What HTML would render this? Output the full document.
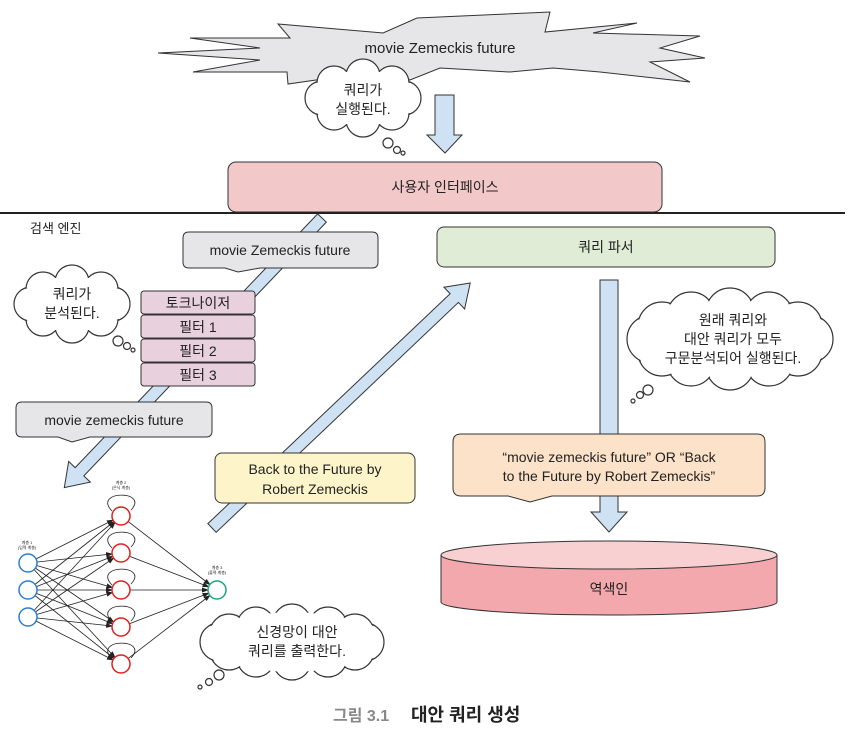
<!DOCTYPE html>
<html><head><meta charset="utf-8"><style>
html,body{margin:0;padding:0;background:#fff;}
svg{display:block;font-family:"Liberation Sans","Noto Sans CJK KR",sans-serif;}
</style></head><body>
<svg width="859" height="734" viewBox="0 0 859 734" xmlns="http://www.w3.org/2000/svg">
<defs>
<marker id="ah" markerUnits="userSpaceOnUse" markerWidth="20" markerHeight="8" refX="15" refY="2.5" orient="auto"><path d="M0,0 L7,2.5 L0,5 z" fill="#222"/></marker>
</defs>
<polygon points="158,53 260,48 190,38 290,38 278,24 383,33 417,18 550,12 545,32 637,23 593,33 700,36 660,48 705,58 650,62 690,82 600,72 553,68 510,72 440,68 410,80 380,72 330,78 288,84 287,72 193,72 260,60" fill="#e6e6e8" stroke="#333" stroke-width="1"/>
<text x="440" y="53" font-size="15" text-anchor="middle" fill="#222">movie Zemeckis future</text>

<g stroke="#333" stroke-width="1.2" fill="#fff">
<circle cx="404" cy="98" r="17"/><circle cx="392" cy="113" r="17"/><circle cx="363" cy="120" r="17"/><circle cx="334" cy="113" r="17"/><circle cx="322" cy="98" r="17"/><circle cx="334" cy="83" r="17"/><circle cx="363" cy="76" r="17"/><circle cx="392" cy="83" r="17"/>
</g>
<g fill="#fff">
<circle cx="404" cy="98" r="16"/><circle cx="392" cy="113" r="16"/><circle cx="363" cy="120" r="16"/><circle cx="334" cy="113" r="16"/><circle cx="322" cy="98" r="16"/><circle cx="334" cy="83" r="16"/><circle cx="363" cy="76" r="16"/><circle cx="392" cy="83" r="16"/><ellipse cx="363" cy="98" rx="45" ry="28"/>
</g>
<g stroke="#333" fill="#fff" stroke-width="1.2"><circle cx="388" cy="143" r="5"/><circle cx="397" cy="150" r="3.5"/><circle cx="403" cy="153" r="2"/></g>
<text x="363" y="95" font-size="14" text-anchor="middle" fill="#222">쿼리가</text>
<text x="363" y="114" font-size="14" text-anchor="middle" fill="#222">실행된다.</text>

<polygon points="435,95 454,95 454,135 462,135 445,153 427,135 435,135" fill="#cfe2f3" stroke="#333" stroke-width="1"/>

<rect x="228" y="162" width="434" height="50" rx="8" fill="#f2c8c8" stroke="#333" stroke-width="1"/>
<text x="445" y="192" font-size="14" text-anchor="middle" fill="#222">사용자 인터페이스</text>
<line x1="0" y1="213" x2="845" y2="213" stroke="#222" stroke-width="2"/>
<text x="30" y="233" font-size="13" fill="#222">검색 엔진</text>

<g transform="translate(322,218) rotate(133.7)" >
<polygon points="0,-6 351,-6 351,-15 373,0 351,15 351,6 0,6" fill="#cfe2f3" stroke="#333" stroke-width="1"/>
</g>
<g transform="translate(212,528) rotate(-43.5)">
<polygon points="0,-6 334,-6 334,-15 356,0 334,15 334,6 0,6" fill="#cfe2f3" stroke="#333" stroke-width="1"/>
</g>

<path d="M189,232 H372 Q378,232 378,238 V262 Q378,268 372,268 H260 L238,272 L225,268 H189 Q183,268 183,262 V238 Q183,232 189,232 Z" fill="#e6e6e8" stroke="#333" stroke-width="1"/>
<text x="280" y="255" font-size="14" text-anchor="middle" fill="#222">movie Zemeckis future</text>

<rect x="437" y="227" width="338" height="40" rx="7" fill="#e0ecd6" stroke="#333" stroke-width="1"/>
<text x="606" y="252" font-size="14" text-anchor="middle" fill="#222">쿼리 파서</text>

<g stroke="#333" stroke-width="1.2" fill="#fff">
<circle cx="113" cy="304" r="17"/><circle cx="101" cy="319" r="17"/><circle cx="72" cy="326" r="17"/><circle cx="43" cy="319" r="17"/><circle cx="31" cy="304" r="17"/><circle cx="43" cy="289" r="17"/><circle cx="72" cy="282" r="17"/><circle cx="101" cy="289" r="17"/>
</g>
<g fill="#fff">
<circle cx="113" cy="304" r="16"/><circle cx="101" cy="319" r="16"/><circle cx="72" cy="326" r="16"/><circle cx="43" cy="319" r="16"/><circle cx="31" cy="304" r="16"/><circle cx="43" cy="289" r="16"/><circle cx="72" cy="282" r="16"/><circle cx="101" cy="289" r="16"/><ellipse cx="72" cy="304" rx="45" ry="28"/>
</g>
<g stroke="#333" fill="#fff" stroke-width="1.2"><circle cx="118" cy="341" r="5"/><circle cx="127" cy="346" r="3.5"/><circle cx="133" cy="350" r="2"/></g>
<text x="72" y="299" font-size="14" text-anchor="middle" fill="#222">쿼리가</text>
<text x="72" y="318" font-size="14" text-anchor="middle" fill="#222">분석된다.</text>

<g fill="#e8d0dc" stroke="#333" stroke-width="1">
<rect x="141" y="291" width="114" height="23" rx="3"/>
<rect x="141" y="315" width="114" height="23" rx="3"/>
<rect x="141" y="339" width="114" height="23" rx="3"/>
<rect x="141" y="363" width="114" height="23" rx="3"/>
</g>
<g font-size="14" text-anchor="middle" fill="#222">
<text x="198" y="308">토크나이저</text>
<text x="198" y="332">필터 1</text>
<text x="198" y="356">필터 2</text>
<text x="198" y="380">필터 3</text>
</g>

<path d="M22,402 H206 Q212,402 212,408 V431 Q212,437 206,437 H90 L72,442 L58,437 H22 Q16,437 16,431 V408 Q16,402 22,402 Z" fill="#e6e6e8" stroke="#333" stroke-width="1"/>
<text x="114" y="425" font-size="14" text-anchor="middle" fill="#222">movie zemeckis future</text>

<rect x="215" y="453" width="200" height="50" rx="7" fill="#fdf5c9" stroke="#333" stroke-width="1"/>
<text x="315" y="474" font-size="14" text-anchor="middle" fill="#222">Back to the Future by</text>
<text x="315" y="494" font-size="14" text-anchor="middle" fill="#222">Robert Zemeckis</text>

<polygon points="600,280 618,280 618,512 627,512 609,532 591,512 600,512" fill="#cfe2f3" stroke="#333" stroke-width="1"/>

<path d="M461,434 H757 Q765,434 765,442 V488 Q765,496 757,496 H552 L530,502 L508,496 H461 Q453,496 453,488 V442 Q453,434 461,434 Z" fill="#fbe2c8" stroke="#333" stroke-width="1"/>
<text x="609" y="462" font-size="14" text-anchor="middle" fill="#222">“movie zemeckis future” OR “Back</text>
<text x="609" y="481" font-size="14" text-anchor="middle" fill="#222">to the Future by Robert Zemeckis”</text>

<g stroke="#333" stroke-width="1.2" fill="#fff">
<circle cx="809" cy="339" r="24"/><circle cx="798" cy="352" r="24"/><circle cx="769" cy="362" r="24"/><circle cx="730" cy="366" r="24"/><circle cx="691" cy="362" r="24"/><circle cx="662" cy="352" r="24"/><circle cx="651" cy="339" r="24"/><circle cx="662" cy="326" r="24"/><circle cx="691" cy="316" r="24"/><circle cx="730" cy="312" r="24"/><circle cx="769" cy="316" r="24"/><circle cx="798" cy="326" r="24"/>
</g>
<g fill="#fff">
<circle cx="809" cy="339" r="23"/><circle cx="798" cy="352" r="23"/><circle cx="769" cy="362" r="23"/><circle cx="730" cy="366" r="23"/><circle cx="691" cy="362" r="23"/><circle cx="662" cy="352" r="23"/><circle cx="651" cy="339" r="23"/><circle cx="662" cy="326" r="23"/><circle cx="691" cy="316" r="23"/><circle cx="730" cy="312" r="23"/><circle cx="769" cy="316" r="23"/><circle cx="798" cy="326" r="23"/><ellipse cx="730" cy="339" rx="85" ry="38"/>
</g>
<g stroke="#333" fill="#fff" stroke-width="1.2"><circle cx="648" cy="390" r="5"/><circle cx="640" cy="395" r="3.5"/><circle cx="633" cy="401" r="2"/></g>
<g font-size="14" text-anchor="middle" fill="#222">
<text x="733" y="325">원래 쿼리와</text>
<text x="733" y="344">대안 쿼리가 모두</text>
<text x="733" y="363">구문분석되어 실행된다.</text>
</g>

<path d="M441,555 V602 A168,13 0 0 0 777,602 V555" fill="#f2a8ac" stroke="#333" stroke-width="1"/>
<ellipse cx="609" cy="555" rx="168" ry="14" fill="#f8d0d2" stroke="#333" stroke-width="1"/>
<text x="609" y="594" font-size="14" text-anchor="middle" fill="#222">역색인</text>

<g stroke="#222" stroke-width="0.8" marker-end="url(#ah)">
<line x1="28" y1="563" x2="121" y2="516"/><line x1="28" y1="563" x2="121" y2="553"/><line x1="28" y1="563" x2="121" y2="590"/><line x1="28" y1="563" x2="121" y2="627"/><line x1="28" y1="563" x2="121" y2="664"/>
<line x1="28" y1="590" x2="121" y2="516"/><line x1="28" y1="590" x2="121" y2="553"/><line x1="28" y1="590" x2="121" y2="590"/><line x1="28" y1="590" x2="121" y2="627"/><line x1="28" y1="590" x2="121" y2="664"/>
<line x1="28" y1="617" x2="121" y2="516"/><line x1="28" y1="617" x2="121" y2="553"/><line x1="28" y1="617" x2="121" y2="590"/><line x1="28" y1="617" x2="121" y2="627"/><line x1="28" y1="617" x2="121" y2="664"/>
<line x1="121" y1="516" x2="217" y2="590"/><line x1="121" y1="553" x2="217" y2="590"/><line x1="121" y1="590" x2="217" y2="590"/><line x1="121" y1="627" x2="217" y2="590"/><line x1="121" y1="664" x2="217" y2="590"/>
</g>
<g fill="none" stroke="#222" stroke-width="0.8">
<path d="M112,511 C92,490 150,490 131,510"/>
<path d="M112,548 C92,527 150,527 131,547"/>
<path d="M112,585 C92,564 150,564 131,584"/>
<path d="M112,622 C92,601 150,601 131,621"/>
<path d="M112,659 C92,638 150,638 131,658"/>
</g>
<g fill="#fff" stroke-width="1.5">
<circle cx="28" cy="563" r="9" stroke="#2a7fd0"/><circle cx="28" cy="590" r="9" stroke="#2a7fd0"/><circle cx="28" cy="617" r="9" stroke="#2a7fd0"/>
<circle cx="121" cy="516" r="9" stroke="#e02020"/><circle cx="121" cy="553" r="9" stroke="#e02020"/><circle cx="121" cy="590" r="9" stroke="#e02020"/><circle cx="121" cy="627" r="9" stroke="#e02020"/><circle cx="121" cy="664" r="9" stroke="#e02020"/>
<circle cx="217" cy="590" r="9" stroke="#20a080"/>
</g>
<g font-size="4" text-anchor="middle" fill="#222">
<text x="27" y="544">계층 1</text><text x="27" y="549">(입력 계층)</text>
<text x="121" y="484">계층 2</text><text x="121" y="489">(은닉 계층)</text>
<text x="217" y="569">계층 3</text><text x="217" y="574">(출력 계층)</text>
</g>

<g stroke="#333" stroke-width="1.2" fill="#fff">
<circle cx="365" cy="642" r="19"/><circle cx="355" cy="651" r="19"/><circle cx="328" cy="658" r="19"/><circle cx="292" cy="661" r="19"/><circle cx="256" cy="658" r="19"/><circle cx="229" cy="651" r="19"/><circle cx="219" cy="642" r="19"/><circle cx="229" cy="633" r="19"/><circle cx="256" cy="626" r="19"/><circle cx="292" cy="623" r="19"/><circle cx="328" cy="626" r="19"/><circle cx="355" cy="633" r="19"/>
</g>
<g fill="#fff">
<circle cx="365" cy="642" r="18"/><circle cx="355" cy="651" r="18"/><circle cx="328" cy="658" r="18"/><circle cx="292" cy="661" r="18"/><circle cx="256" cy="658" r="18"/><circle cx="229" cy="651" r="18"/><circle cx="219" cy="642" r="18"/><circle cx="229" cy="633" r="18"/><circle cx="256" cy="626" r="18"/><circle cx="292" cy="623" r="18"/><circle cx="328" cy="626" r="18"/><circle cx="355" cy="633" r="18"/><ellipse cx="292" cy="642" rx="75" ry="30"/>
</g>
<g stroke="#333" fill="#fff" stroke-width="1.2"><circle cx="219" cy="675" r="5"/><circle cx="209" cy="682" r="3.5"/><circle cx="200" cy="687" r="2"/></g>
<text x="297" y="637" font-size="14" text-anchor="middle" fill="#222">신경망이 대안</text>
<text x="297" y="656" font-size="14" text-anchor="middle" fill="#222">쿼리를 출력한다.</text>

<text x="333" y="721" font-size="16" fill="#888" font-weight="bold">그림 3.1</text>
<text x="411" y="721" font-size="18" fill="#222" font-weight="bold">대안 쿼리 생성</text>
</svg>
</body></html>
